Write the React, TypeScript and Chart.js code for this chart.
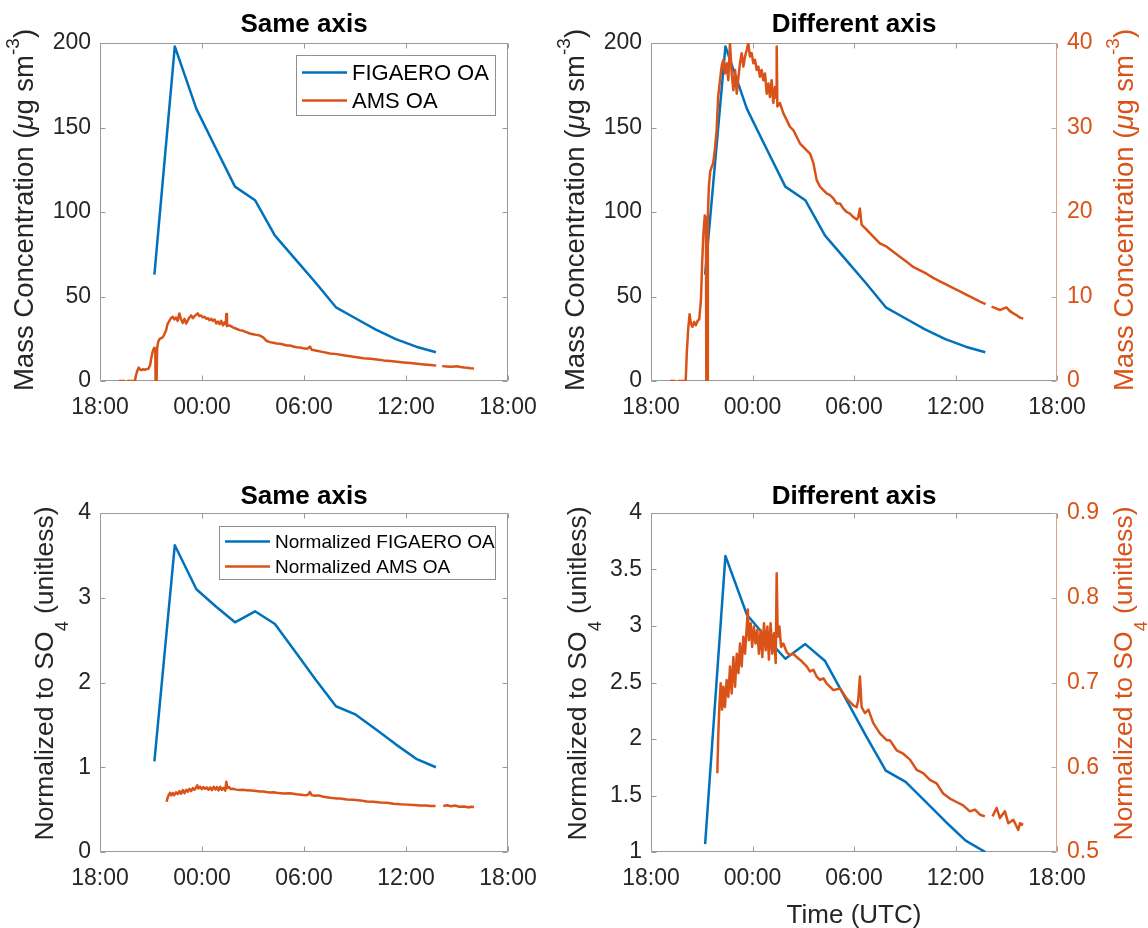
import React, { useEffect, useRef } from "react";
import { Chart, registerables } from "chart.js";

Chart.register(...registerables);

const BLUE = "#0072BD";
const ORANGE = "#D95319";
const TEXT = "#262626";
const BOX = "#9a9a9a";
const ORANGE_AXIS = "#dca17f";
const FONT = '"Liberation Sans", Arial, Helvetica, sans-serif';

// ---- data (hours since 18:00 of the first day) ----
const timeTickHours = [0, 6, 12, 18, 24];
const timeTickLabels = ["18:00", "00:00", "06:00", "12:00", "18:00"];

const massTicks = [0, 50, 100, 150, 200];
const amsMassTicks = [0, 10, 20, 30, 40];
const normTicksSame = [0, 1, 2, 3, 4];
const normTicksDiff = [1, 1.5, 2, 2.5, 3, 3.5, 4];
const amsNormTicks = [0.5, 0.6, 0.7, 0.8, 0.9];

const figaeroTime = [3.2, 4.4, 5.67, 6.8, 7.94, 9.12, 10.29, 11.5, 12.7, 13.88, 15.05, 16.2, 17.4, 18.6, 19.76];
const figaeroMass = [63, 198, 161, 138, 115, 107, 86, 72, 58, 43.6, 37, 30.6, 24.8, 20.3, 17];
const figaeroNorm = [1.07, 3.62, 3.1, 2.9, 2.71, 2.84, 2.69, 2.36, 2.03, 1.72, 1.62, 1.45, 1.27, 1.1, 1.0];

const amsMassSeries: [number, number | null][] = [
  [1.12, 0], [1.45, 0], [1.5, null], [1.6, 0], [2.05, 0], [2.12, 3.5], [2.2, 6.2], [2.28, 7.9],
  [2.36, 6.8], [2.45, 6.4], [2.55, 7.0], [2.65, 6.6], [2.75, 7.1], [2.85, 7.3], [2.95, 9.5],
  [3.02, 13.8], [3.1, 17.5], [3.18, 19.6], [3.25, 19.2], [3.27, 0], [3.33, 0], [3.36, 19.5],
  [3.42, 23.0], [3.5, 24.8], [3.6, 25.4], [3.68, 25.8], [3.78, 27.5], [3.88, 29.7], [3.97, 33.6],
  [4.08, 35.6], [4.18, 37.3], [4.28, 38.0], [4.37, 36.4], [4.47, 37.6], [4.57, 35.6], [4.67, 40.0],
  [4.77, 36.4], [4.87, 34.4], [4.97, 36.8], [5.07, 34.0], [5.17, 36.0], [5.26, 37.6], [5.36, 38.8],
  [5.46, 37.2], [5.56, 38.4], [5.66, 39.2], [5.75, 40.0], [5.85, 38.4], [5.95, 38.8], [6.05, 37.6],
  [6.15, 38.0], [6.25, 36.8], [6.35, 37.2], [6.44, 36.0], [6.54, 36.8], [6.64, 35.6], [6.74, 36.4],
  [6.84, 34.0], [6.94, 35.2], [7.03, 33.6], [7.13, 35.6], [7.23, 32.9], [7.33, 34.8], [7.4, 33.5],
  [7.43, 39.6], [7.47, 32.5], [7.62, 32.9], [7.82, 31.7], [8.02, 30.9], [8.21, 30.1], [8.41, 29.7],
  [8.61, 28.9], [8.81, 28.1], [9.0, 27.7], [9.2, 27.3], [9.4, 26.9], [9.6, 25.8], [9.79, 23.8],
  [9.99, 23.0], [10.19, 22.6], [10.38, 22.2], [10.58, 22.0], [10.78, 21.6], [10.98, 21.0],
  [11.17, 21.0], [11.37, 20.4], [11.57, 20.0], [11.76, 19.8], [11.96, 19.4], [12.16, 19.1],
  [12.25, 19.4], [12.35, 20.4], [12.45, 18.5], [12.55, 18.3], [12.75, 17.9], [13.14, 17.1],
  [13.53, 16.3], [13.93, 15.9], [14.32, 15.3], [14.71, 14.7], [15.11, 14.1], [15.5, 13.5],
  [15.9, 13.1], [16.29, 12.7], [16.68, 12.2], [17.08, 11.8], [17.47, 11.4], [17.87, 11.0],
  [18.26, 10.6], [18.66, 10.2], [19.05, 9.8], [19.45, 9.4], [19.78, 9.1], [19.95, null],
  [20.13, 8.8], [20.4, 8.6], [20.63, 8.4], [20.85, 8.6], [21.02, 8.7], [21.2, 8.3], [21.42, 8.0],
  [21.6, 7.8], [21.81, 7.5], [22.0, 7.4],
];

const amsNormSeries: [number, number | null][] = [
  [3.92, 0.593], [3.98, 0.64], [4.04, 0.671], [4.12, 0.699], [4.2, 0.668], [4.28, 0.695],
  [4.37, 0.671], [4.47, 0.703], [4.57, 0.683], [4.67, 0.719], [4.77, 0.687], [4.87, 0.73],
  [4.97, 0.695], [5.07, 0.734], [5.17, 0.711], [5.26, 0.746], [5.36, 0.719], [5.46, 0.754],
  [5.56, 0.734], [5.66, 0.766], [5.72, 0.786], [5.79, 0.75], [5.89, 0.77], [5.98, 0.742],
  [6.08, 0.766], [6.18, 0.746], [6.28, 0.762], [6.38, 0.734], [6.48, 0.762], [6.58, 0.73],
  [6.68, 0.77], [6.78, 0.738], [6.88, 0.766], [6.97, 0.727], [7.07, 0.77], [7.17, 0.734],
  [7.27, 0.758], [7.37, 0.723], [7.43, 0.829], [7.49, 0.754], [7.59, 0.766], [7.69, 0.742],
  [7.82, 0.746], [8.02, 0.736], [8.21, 0.732], [8.41, 0.734], [8.61, 0.73], [8.91, 0.725],
  [9.2, 0.719], [9.4, 0.713], [9.6, 0.715], [9.79, 0.707], [9.99, 0.703], [10.19, 0.705],
  [10.38, 0.699], [10.78, 0.691], [11.17, 0.693], [11.37, 0.687], [11.57, 0.681], [11.96, 0.673],
  [12.16, 0.671], [12.25, 0.679], [12.35, 0.707], [12.45, 0.671], [12.65, 0.664], [12.85, 0.668],
  [13.14, 0.652], [13.53, 0.64], [13.93, 0.632], [14.12, 0.632], [14.52, 0.62], [14.91, 0.616],
  [15.31, 0.609], [15.7, 0.597], [16.09, 0.593], [16.49, 0.585], [16.88, 0.581], [17.27, 0.569],
  [17.67, 0.563], [18.06, 0.559], [18.45, 0.555], [18.85, 0.548], [19.15, 0.55], [19.45, 0.544],
  [19.74, 0.542], [19.95, null], [20.19, 0.542], [20.43, 0.552], [20.63, 0.54], [20.92, 0.548],
  [21.12, 0.534], [21.42, 0.538], [21.71, 0.526], [21.81, 0.534], [22.0, 0.532],
];

// ---- helpers ----
type Part = { t: string; italic?: boolean; sup?: boolean; sub?: boolean };
type RichTitle = { parts: Part[]; size: number; shift: number };

const massTitle: RichTitle = {
  parts: [
    { t: "Mass Concentration (" },
    { t: "\u03bc", italic: true },
    { t: "g sm" },
    { t: "-3", sup: true },
    { t: ")" },
  ],
  size: 27.5,
  shift: -2,
};
const normTitle: RichTitle = {
  parts: [{ t: "Normalized to SO" }, { t: "4", sub: true }, { t: " (unitless)" }],
  size: 26.5,
  shift: -9,
};

function xy(xs: number[], ys: (number | null)[]) {
  return xs.map((x, i) => ({ x, y: ys[i] }));
}
function pairs(s: [number, number | null][]) {
  return s.map(([x, y]) => ({ x, y }));
}

function drawRich(ctx: CanvasRenderingContext2D, title: RichTitle, bx: number, cy: number, color: string) {
  const size = title.size;
  ctx.save();
  ctx.translate(bx, cy + title.shift);
  ctx.rotate(-Math.PI / 2);
  ctx.fillStyle = color;
  ctx.textBaseline = "alphabetic";
  ctx.textAlign = "left";
  const specs = title.parts.map((p) => {
    const sz = p.sup || p.sub ? Math.round(size * 0.68) : size;
    const font = `${p.italic ? "italic " : ""}${sz}px ${FONT}`;
    ctx.font = font;
    return { p, font, w: ctx.measureText(p.t).width, dy: p.sup ? -0.5 * size : p.sub ? 0.55 * size : 0 };
  });
  const total = specs.reduce((s, q) => s + q.w, 0);
  let x = -total / 2;
  for (const s of specs) {
    ctx.font = s.font;
    ctx.fillText(s.p.t, x, s.dy);
    x += s.w;
  }
  ctx.restore();
}

type LegendCfg = {
  items: { label: string; color: string }[];
  box: [number, number, number, number];
  lineX: [number, number];
  textX: number;
  rows: number[];
  font: number;
};

type PanelCfg = {
  left: number;
  top: number;
  width: number;
  height: number;
  area: { l: number; t: number; r: number; b: number };
  title: string;
  titleY: number;
  y: { min: number; max: number; ticks: number[] };
  y1?: { min: number; max: number; ticks: number[] };
  yTitle: RichTitle;
  yTitleX: number;
  y1Title?: RichTitle;
  y1TitleX?: number;
  xTitle?: { text: string; y: number };
  legend?: LegendCfg;
  datasets: any[];
};

function decorPlugin(cfg: PanelCfg) {
  return {
    id: "decor",
    beforeDatasetsDraw(chart: any) {
      const { ctx, chartArea: a, scales } = chart;
      const L = Math.round(a.left) + 0.5;
      const R = Math.round(a.right) - 0.5;
      const T = Math.round(a.top) + 0.5;
      const B = Math.round(a.bottom) - 0.5;
      const TL = 5;
      ctx.save();
      ctx.lineWidth = 1;
      ctx.strokeStyle = BOX;
      ctx.beginPath();
      ctx.moveTo(R, T);
      ctx.lineTo(L, T);
      ctx.lineTo(L, B);
      ctx.lineTo(R, B);
      for (const v of timeTickHours) {
        const px = Math.round(scales.x.getPixelForValue(v)) + 0.5;
        ctx.moveTo(px, B);
        ctx.lineTo(px, B - TL);
        ctx.moveTo(px, T);
        ctx.lineTo(px, T + TL);
      }
      for (const v of cfg.y.ticks) {
        const py = Math.round(scales.y.getPixelForValue(v)) + 0.5;
        ctx.moveTo(L, py);
        ctx.lineTo(L + TL, py);
        if (!cfg.y1) {
          ctx.moveTo(R, py);
          ctx.lineTo(R - TL, py);
        }
      }
      if (!cfg.y1) {
        ctx.moveTo(R, T);
        ctx.lineTo(R, B);
      }
      ctx.stroke();
      if (cfg.y1) {
        ctx.strokeStyle = ORANGE_AXIS;
        ctx.beginPath();
        ctx.moveTo(R, T);
        ctx.lineTo(R, B);
        for (const v of cfg.y1.ticks) {
          const py = Math.round(scales.y1.getPixelForValue(v)) + 0.5;
          ctx.moveTo(R, py);
          ctx.lineTo(R - TL, py);
        }
        ctx.stroke();
      }
      ctx.restore();
    },
    afterDraw(chart: any) {
      const { ctx, chartArea: a } = chart;
      ctx.save();
      ctx.fillStyle = "#000";
      ctx.font = `bold 26px ${FONT}`;
      ctx.textAlign = "center";
      ctx.textBaseline = "alphabetic";
      ctx.fillText(cfg.title, (a.left + a.right) / 2, cfg.titleY);
      const cy = (a.top + a.bottom) / 2;
      drawRich(ctx, cfg.yTitle, cfg.yTitleX, cy, TEXT);
      if (cfg.y1Title && cfg.y1TitleX !== undefined) drawRich(ctx, cfg.y1Title, cfg.y1TitleX, cy, ORANGE);
      if (cfg.xTitle) {
        ctx.fillStyle = TEXT;
        ctx.font = `26px ${FONT}`;
        ctx.textAlign = "center";
        ctx.fillText(cfg.xTitle.text, (a.left + a.right) / 2, cfg.xTitle.y);
      }
      const lg = cfg.legend;
      if (lg) {
        const [bx, by, bw, bh] = lg.box;
        ctx.fillStyle = "#fff";
        ctx.fillRect(bx, by, bw, bh);
        ctx.strokeStyle = "#8f8f8f";
        ctx.lineWidth = 1;
        ctx.strokeRect(bx + 0.5, by + 0.5, bw, bh);
        ctx.font = `${lg.font}px ${FONT}`;
        ctx.textAlign = "left";
        ctx.textBaseline = "middle";
        lg.items.forEach((it, i) => {
          const y = lg.rows[i];
          ctx.strokeStyle = it.color;
          ctx.lineWidth = 2.5;
          ctx.beginPath();
          ctx.moveTo(lg.lineX[0], y);
          ctx.lineTo(lg.lineX[1], y);
          ctx.stroke();
          ctx.fillStyle = "#000";
          ctx.fillText(it.label, lg.textX, y + 1);
        });
      }
      ctx.restore();
    },
  };
}

function buildConfig(cfg: PanelCfg): any {
  const { area, width: W, height: H } = cfg;
  const tickFont = { family: FONT, size: 23 };
  const scales: any = {
    x: {
      type: "linear",
      min: 0,
      max: 24,
      afterBuildTicks: (s: any) => {
        s.ticks = timeTickHours.map((v) => ({ value: v }));
      },
      ticks: {
        callback: (v: number) => timeTickLabels[timeTickHours.indexOf(v)] ?? "",
        font: tickFont,
        color: TEXT,
        padding: 13,
        maxRotation: 0,
        autoSkip: false,
      },
      grid: { display: false, drawTicks: false },
      border: { display: false },
      afterFit: (s: any) => {
        s.height = H - area.b;
        s.paddingLeft = 0;
        s.paddingRight = 0;
      },
    },
    y: {
      type: "linear",
      position: "left",
      min: cfg.y.min,
      max: cfg.y.max,
      afterBuildTicks: (s: any) => {
        s.ticks = cfg.y.ticks.map((v) => ({ value: v }));
      },
      ticks: { callback: (v: number) => String(v), font: tickFont, color: TEXT, padding: 9 },
      grid: { display: false, drawTicks: false },
      border: { display: false },
      afterFit: (s: any) => {
        s.width = area.l;
        s.paddingTop = 0;
        s.paddingBottom = 0;
      },
    },
  };
  if (cfg.y1) {
    const y1 = cfg.y1;
    scales.y1 = {
      type: "linear",
      position: "right",
      min: y1.min,
      max: y1.max,
      afterBuildTicks: (s: any) => {
        s.ticks = y1.ticks.map((v) => ({ value: v }));
      },
      ticks: { callback: (v: number) => String(v), font: tickFont, color: ORANGE, padding: 10 },
      grid: { display: false, drawTicks: false },
      border: { display: false },
      afterFit: (s: any) => {
        s.width = W - area.r;
        s.paddingTop = 0;
        s.paddingBottom = 0;
      },
    };
  }
  return {
    type: "line",
    data: { datasets: cfg.datasets },
    options: {
      responsive: false,
      maintainAspectRatio: false,
      animation: false,
      devicePixelRatio: 1,
      layout: { padding: { left: 0, top: area.t, right: cfg.y1 ? 0 : W - area.r, bottom: 0 } },
      scales,
      plugins: { legend: { display: false }, tooltip: { enabled: false }, title: { display: false } },
      elements: { point: { radius: 0 }, line: { borderWidth: 2.5, tension: 0 } },
    },
    plugins: [decorPlugin(cfg)],
  };
}

function line(label: string, data: any[], color: string, yAxisID: string, order: number) {
  return {
    label,
    data,
    borderColor: color,
    backgroundColor: color,
    borderWidth: 2.5,
    pointRadius: 0,
    tension: 0,
    spanGaps: false,
    fill: false,
    yAxisID,
    order,
    borderCapStyle: "butt",
    borderJoinStyle: "round",
  };
}

const panels: PanelCfg[] = [
  {
    left: 0,
    top: 0,
    width: 560,
    height: 464,
    area: { l: 100, t: 43, r: 508, b: 381 },
    title: "Same axis",
    titleY: 32,
    y: { min: 0, max: 200, ticks: massTicks },
    yTitle: massTitle,
    yTitleX: 33,
    legend: {
      items: [
        { label: "FIGAERO OA", color: BLUE },
        { label: "AMS OA", color: ORANGE },
      ],
      box: [296, 55, 199, 60],
      lineX: [302, 347],
      textX: 352,
      rows: [72.5, 100.5],
      font: 22,
    },
    datasets: [
      line("AMS OA", pairs(amsMassSeries), ORANGE, "y", 0),
      line("FIGAERO OA", xy(figaeroTime, figaeroMass), BLUE, "y", 1),
    ],
  },
  {
    left: 540,
    top: 0,
    width: 608,
    height: 464,
    area: { l: 111, t: 43, r: 517, b: 381 },
    title: "Different axis",
    titleY: 32,
    y: { min: 0, max: 200, ticks: massTicks },
    y1: { min: 0, max: 40, ticks: amsMassTicks },
    yTitle: massTitle,
    yTitleX: 44,
    y1Title: massTitle,
    y1TitleX: 593,
    datasets: [
      line("AMS OA", pairs(amsMassSeries), ORANGE, "y1", 0),
      line("FIGAERO OA", xy(figaeroTime, figaeroMass), BLUE, "y", 1),
    ],
  },
  {
    left: 0,
    top: 464,
    width: 560,
    height: 464,
    area: { l: 100, t: 49, r: 508, b: 388 },
    title: "Same axis",
    titleY: 40,
    y: { min: 0, max: 4, ticks: normTicksSame },
    yTitle: normTitle,
    yTitleX: 53,
    legend: {
      items: [
        { label: "Normalized FIGAERO OA", color: BLUE },
        { label: "Normalized AMS OA", color: ORANGE },
      ],
      box: [219, 62, 276, 53],
      lineX: [225, 270],
      textX: 275,
      rows: [77.5, 102.5],
      font: 19,
    },
    datasets: [
      line("Normalized AMS OA", pairs(amsNormSeries), ORANGE, "y", 0),
      line("Normalized FIGAERO OA", xy(figaeroTime, figaeroNorm), BLUE, "y", 1),
    ],
  },
  {
    left: 540,
    top: 464,
    width: 608,
    height: 464,
    area: { l: 111, t: 49, r: 517, b: 388 },
    title: "Different axis",
    titleY: 40,
    y: { min: 1, max: 4, ticks: normTicksDiff },
    y1: { min: 0.5, max: 0.9, ticks: amsNormTicks },
    yTitle: normTitle,
    yTitleX: 46,
    y1Title: normTitle,
    y1TitleX: 592,
    xTitle: { text: "Time (UTC)", y: 459 },
    datasets: [
      line("Normalized AMS OA", pairs(amsNormSeries), ORANGE, "y1", 0),
      line("Normalized FIGAERO OA", xy(figaeroTime, figaeroNorm), BLUE, "y", 1),
    ],
  },
];

function Panel({ cfg }: { cfg: PanelCfg }) {
  const ref = useRef<HTMLCanvasElement>(null);
  useEffect(() => {
    if (!ref.current) return;
    const chart = new Chart(ref.current, buildConfig(cfg));
    return () => chart.destroy();
  }, [cfg]);
  return (
    <canvas
      ref={ref}
      width={cfg.width}
      height={cfg.height}
      style={{ position: "absolute", left: cfg.left, top: cfg.top, width: cfg.width, height: cfg.height }}
    />
  );
}

export default function App() {
  return (
    <div style={{ position: "absolute", left: 0, top: 0, width: 1148, height: 928, background: "#fff", overflow: "hidden" }}>
      {panels.map((p, i) => (
        <Panel key={i} cfg={p} />
      ))}
    </div>
  );
}
